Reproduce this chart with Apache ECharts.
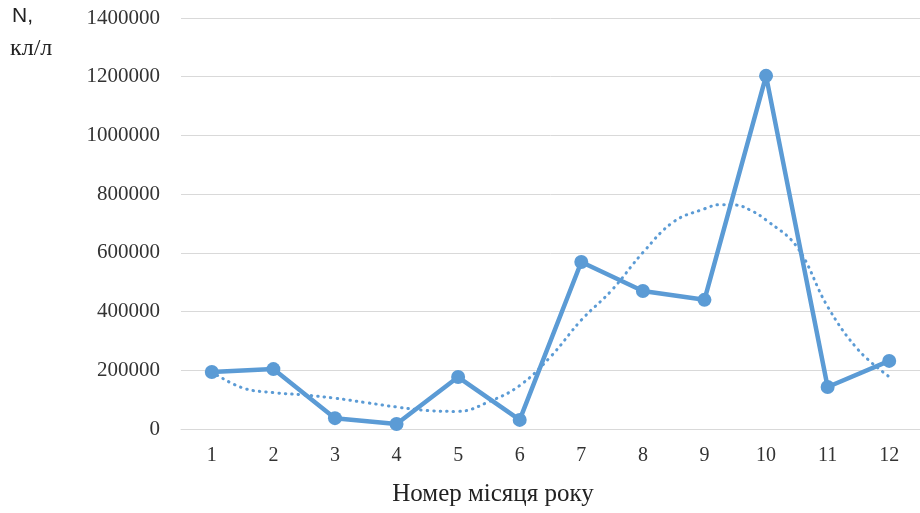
<!DOCTYPE html>
<html><head><meta charset="utf-8">
<script src="https://cdn.jsdelivr.net/npm/echarts@6/dist/echarts.min.js"></script>
<style>html,body{margin:0;padding:0;background:#fff}#c{width:920px;height:513px}</style>
</head><body><div id="c"></div>
<script>
const months = ['1','2','3','4','5','6','7','8','9','10','11','12'];
const values = [194000, 204000, 37000, 17000, 177000, 31000, 569000, 470000, 440000, 1203000, 143000, 232000];
const trendX = [1,1.5,2,2.5,3,3.5,4,4.5,5,5.5,6,6.5,7,7.5,8,8.5,9,9.25,9.5,9.75,10,10.5,11,11.5,12];
const trendY = [195000,140000,124000,116000,105000,90000,75000,63000,60000,93000,148000,246000,371000,474000,601000,706000,750000,764000,763000,745000,712000,621000,417000,269000,178000];
const yTicks = [0,200000,400000,600000,800000,1000000,1200000,1400000];
const xTitle = 'Номер місяця року';
const yTitle1 = 'N,';
const yTitle2 = 'кл/л';

const chart = echarts.init(document.getElementById('c'));
const serif = '"Liberation Serif", "DejaVu Serif", serif';
chart.setOption({
  animation: false,
  backgroundColor: '#fff',
  grid: {left: 181, top: 18, width: 748, bottom: 84},
  graphic: [
    {type: 'text', left: 12, top: 6, style: {text: yTitle1, font: '21px "Liberation Sans", Arial, sans-serif', fill: '#222'}},
    {type: 'text', left: 10, top: 37, style: {text: yTitle2, font: '24px ' + serif, fill: '#222'}},
    {type: 'text', x: 493, y: 494, style: {text: xTitle, font: '25px ' + serif, fill: '#222', align: 'center', verticalAlign: 'middle'}}
  ],
  xAxis: [{
    type: 'category', data: months, boundaryGap: true,
    axisLine: {lineStyle: {color: '#d9d9d9', width: 1}},
    axisTick: {show: false},
    axisLabel: {fontFamily: serif, fontSize: 20, color: '#333', margin: 17}
  }, {
    type: 'value', min: 0.5, max: 12.5, show: false
  }],
  yAxis: {
    type: 'value', min: 0, max: 1400000, interval: 200000,
    axisLine: {show: false}, axisTick: {show: false},
    splitLine: {lineStyle: {color: '#d9d9d9', width: 1}},
    axisLabel: {fontFamily: serif, fontSize: 21, color: '#333', margin: 21,
      formatter: v => yTicks.includes(v) ? String(v) : ''}
  },
  series: [{
    type: 'line', xAxisIndex: 1, smooth: 0.4, symbol: 'none',
    data: trendX.map((x, i) => [x, trendY[i]]),
    lineStyle: {color: '#5B9BD5', width: 3, type: [0.5, 6], cap: 'round'}, z: 2
  }, {
    type: 'line', data: values, symbol: 'circle', symbolSize: 14,
    lineStyle: {color: '#5B9BD5', width: 4.5},
    itemStyle: {color: '#5B9BD5'}, z: 3
  }]
});
</script></body></html>
